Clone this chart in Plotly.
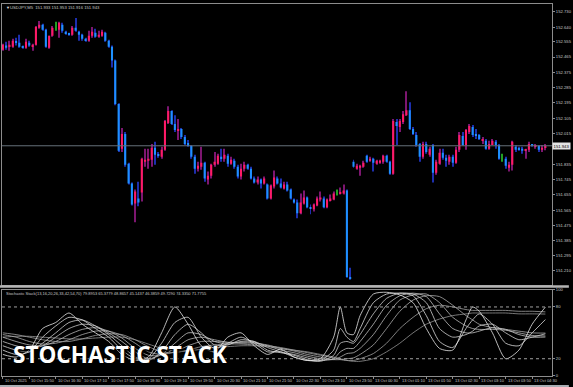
import plotly.graph_objects as go

# ---------------- data ----------------
OPEN = [152.508,152.532,152.526,152.526,152.555,152.549,152.526,152.520,152.549,152.526,
        152.537,152.637,152.654,152.625,152.520,152.590,152.631,152.625,152.654,152.613,
        152.602,152.596,152.637,152.613,152.596,152.572,152.561,152.590,152.607,152.584,
        152.590,152.607,152.561,152.526,152.444,152.188,151.925,152.012,151.837,151.721,
        151.604,151.633,151.668,151.849,151.855,151.861,151.931,151.890,151.878,151.919,
        152.077,152.147,152.071,152.030,152.042,151.995,151.960,151.942,151.878,151.808,
        151.820,151.843,151.744,151.767,151.832,151.837,151.878,151.867,151.884,151.837,
        151.855,151.820,151.762,151.808,151.832,151.808,151.750,151.727,151.744,151.721,
        151.715,151.633,151.703,151.750,151.721,151.692,151.715,151.686,151.627,151.610,
        151.546,151.604,151.639,151.581,151.569,151.592,151.627,151.633,151.581,151.622,
        151.627,151.665,151.662,151.662,151.680,151.172,151.849,151.808,151.814,151.820,
        151.884,151.855,151.867,151.837,151.843,151.849,151.884,151.849,151.779,152.083,
        152.053,152.083,152.123,152.152,152.042,152.007,151.954,151.878,151.954,151.890,
        151.948,151.785,151.837,151.902,151.872,151.849,151.878,151.843,151.919,152.001,
        151.948,152.024,152.053,152.007,152.007,151.972,151.972,151.925,151.948,151.966,
        151.948,151.878,151.867,151.814,151.832,151.937,151.925,151.925,151.913,151.919,
        151.948,151.937,151.942,151.919,151.933]
HIGH = [152.543,152.555,152.561,152.572,152.578,152.596,152.532,152.572,152.561,152.543,
        152.648,152.677,152.660,152.631,152.590,152.648,152.672,152.672,152.666,152.619,
        152.607,152.648,152.695,152.619,152.602,152.578,152.619,152.642,152.631,152.619,
        152.625,152.613,152.567,152.532,152.450,152.193,152.047,152.024,151.843,151.727,
        151.686,151.732,151.872,151.925,151.925,151.954,151.966,151.907,151.937,152.094,
        152.176,152.152,152.123,152.100,152.047,152.007,151.977,151.948,151.890,151.849,
        151.937,151.849,151.791,151.837,151.907,151.896,151.925,151.925,151.896,151.878,
        151.867,151.832,151.837,151.849,151.837,151.820,151.762,151.762,151.750,151.762,
        151.721,151.715,151.797,151.762,151.750,151.732,151.732,151.692,151.633,151.627,
        151.662,151.680,151.645,151.598,151.604,151.645,151.674,151.645,151.633,151.657,
        151.674,151.686,151.697,151.715,151.686,151.225,151.861,151.837,151.832,151.855,
        151.890,151.878,151.872,151.861,151.861,151.890,151.890,151.855,152.100,152.100,
        152.100,152.147,152.263,152.199,152.053,152.024,151.960,151.966,151.966,151.937,
        151.954,151.861,151.925,151.925,151.890,151.890,151.890,151.937,152.024,152.024,
        152.042,152.071,152.065,152.042,152.012,151.995,151.983,151.972,151.983,151.977,
        151.954,151.896,151.878,151.849,151.972,151.948,151.937,151.937,151.925,151.966,
        151.954,151.954,151.948,151.948,151.953]
LOW = [152.502,152.508,152.502,152.520,152.532,152.520,152.514,152.514,152.526,152.502,
       152.532,152.631,152.619,152.520,152.514,152.584,152.619,152.578,152.607,152.596,
       152.590,152.590,152.613,152.561,152.561,152.555,152.555,152.578,152.578,152.578,
       152.584,152.555,152.520,152.403,152.182,151.907,151.907,151.820,151.715,151.592,
       151.493,151.587,151.616,151.820,151.808,151.820,151.832,151.872,151.867,151.913,
       152.071,152.065,152.024,151.977,151.983,151.948,151.937,151.867,151.779,151.791,
       151.802,151.732,151.715,151.750,151.820,151.832,151.849,151.849,151.820,151.832,
       151.808,151.750,151.744,151.791,151.802,151.744,151.721,151.715,151.692,151.715,
       151.627,151.627,151.692,151.715,151.692,151.686,151.674,151.627,151.604,151.517,
       151.540,151.598,151.575,151.540,151.557,151.587,151.616,151.575,151.575,151.616,
       151.622,151.651,151.657,151.657,151.167,151.155,151.814,151.802,151.767,151.814,
       151.843,151.849,151.791,151.832,151.837,151.837,151.843,151.773,151.773,151.948,
       152.024,152.071,152.118,152.036,152.007,151.937,151.849,151.867,151.896,151.878,
       151.727,151.773,151.832,151.861,151.820,151.832,151.820,151.837,151.907,151.942,
       151.919,152.012,151.995,151.983,151.977,151.954,151.919,151.919,151.948,151.925,
       151.861,151.849,151.808,151.791,151.797,151.907,151.913,151.896,151.867,151.907,
       151.937,151.925,151.907,151.907,151.916]
CLOSE = [152.537,152.520,152.537,152.561,152.549,152.526,152.520,152.555,152.532,152.537,
         152.642,152.654,152.625,152.526,152.590,152.637,152.631,152.666,152.619,152.602,
         152.596,152.637,152.619,152.596,152.572,152.561,152.590,152.613,152.584,152.596,
         152.613,152.561,152.526,152.444,152.188,151.913,152.012,151.832,151.721,151.598,
         151.674,151.610,151.867,151.861,151.867,151.931,151.890,151.884,151.919,152.088,
         152.147,152.071,152.036,152.042,151.995,151.954,151.942,151.878,151.808,151.826,
         151.843,151.750,151.767,151.832,151.849,151.884,151.867,151.890,151.837,151.861,
         151.820,151.762,151.808,151.832,151.808,151.750,151.727,151.744,151.721,151.750,
         151.633,151.709,151.756,151.721,151.697,151.715,151.680,151.633,151.610,151.546,
         151.610,151.639,151.581,151.575,151.598,151.633,151.639,151.581,151.627,151.633,
         151.662,151.665,151.668,151.680,151.172,151.161,151.820,151.826,151.826,151.843,
         151.849,151.867,151.843,151.855,151.855,151.884,151.849,151.779,152.088,152.059,
         152.088,152.129,152.152,152.042,152.012,151.948,151.878,151.954,151.907,151.925,
         151.785,151.849,151.902,151.872,151.855,151.878,151.843,151.919,152.007,151.948,
         152.036,152.059,152.007,152.001,151.983,151.983,151.925,151.954,151.972,151.948,
         151.867,151.878,151.826,151.832,151.966,151.919,151.919,151.913,151.919,151.954,
         151.942,151.948,151.919,151.931,151.943]

TIME_LABELS = ["10 Oct 2025", "10 Oct 15:50", "10 Oct 16:30", "10 Oct 17:10", "10 Oct 17:50",
               "10 Oct 18:30", "10 Oct 19:10", "10 Oct 19:50", "10 Oct 20:30", "10 Oct 21:10",
               "10 Oct 21:50", "10 Oct 22:30", "10 Oct 23:10", "10 Oct 23:50", "13 Oct 00:30",
               "13 Oct 01:10", "13 Oct 01:50", "13 Oct 02:30", "13 Oct 03:10", "13 Oct 03:50",
               "13 Oct 04:30"]
TIME_IDX = [0, 8, 16, 24, 32, 40, 48, 56, 64, 72, 80, 88, 96, 104, 112, 120, 128, 136, 144, 152, 160]

PRICE_TICKS = [152.730, 152.640, 152.555, 152.465, 152.375, 152.285, 152.195, 152.105, 152.015,
               151.925, 151.835, 151.745, 151.655, 151.565, 151.475, 151.385, 151.295, 151.210, 151.120]
STOCH_TICKS = [0, 20, 80, 100]
STOCH_LEVELS = [20, 80]

SYMBOL = "USDJPY,M5"
STOCH_PERIODS = [13, 16, 20, 26, 33, 42, 54, 70]
STOCH_LAST = [79.8953, 65.3779, 48.8657, 45.1437, 46.3859, 49.7290, 74.3350, 71.7755]

STOCH_X = [0, 4, 8, 12, 16, 20, 24, 28, 32, 36, 40, 44, 48, 52, 56, 60, 64, 68, 72, 76, 80, 84, 88, 92,
           96, 100, 102, 104, 106, 108, 112, 116, 120, 124, 128, 132, 136, 140, 142, 144, 148, 152,
           156, 160, 164]
STOCH_13 = [25, 22, 30, 55, 62, 73, 60, 50, 40, 25, 18, 22, 50, 80, 60, 35, 28, 45, 50, 35, 25, 31, 22, 18,
            20, 45, 80, 50, 48, 70, 95, 97, 94, 85, 55, 32, 30, 65, 80, 75, 50, 20, 30, 60, 79.8953]
STOCH_16 = [30, 25, 28, 45, 58, 68, 65, 55, 45, 30, 20, 20, 38, 62, 68, 45, 32, 38, 45, 38, 28, 28, 22, 18,
            18, 30, 55, 45, 40, 55, 85, 95, 96, 93, 70, 40, 33, 55, 65, 72, 60, 38, 35, 50, 65.3779]
STOCH_20 = [35, 30, 28, 38, 50, 62, 65, 58, 48, 35, 22, 18, 28, 48, 60, 50, 36, 36, 42, 40, 30, 27, 24, 19,
            17, 24, 38, 40, 38, 48, 72, 90, 96, 95, 85, 55, 45, 48, 52, 58, 60, 50, 42, 45, 48.8657]
STOCH_26 = [40, 35, 32, 35, 45, 55, 60, 58, 50, 40, 28, 20, 25, 38, 50, 48, 40, 37, 40, 40, 33, 28, 25, 21,
            18, 20, 28, 32, 32, 40, 60, 82, 93, 96, 92, 72, 55, 50, 50, 52, 56, 54, 48, 45, 45.1437]
STOCH_33 = [45, 40, 36, 35, 40, 48, 54, 56, 52, 44, 32, 24, 24, 32, 42, 45, 42, 39, 39, 39, 35, 30, 27, 23,
            20, 19, 22, 26, 27, 32, 48, 70, 88, 94, 95, 85, 68, 58, 55, 54, 54, 53, 50, 47, 46.3859]
STOCH_42 = [48, 45, 40, 37, 38, 42, 48, 52, 52, 47, 38, 28, 25, 28, 35, 40, 40, 39, 38, 38, 36, 32, 29, 25,
            22, 19, 19, 20, 21, 25, 36, 55, 75, 88, 93, 92, 82, 70, 65, 60, 56, 54, 52, 50, 49.7290]
STOCH_54 = [50, 48, 45, 42, 40, 40, 43, 47, 49, 48, 42, 34, 28, 27, 30, 34, 36, 37, 37, 36, 35, 33, 30, 27,
            24, 21, 19, 18, 18, 20, 26, 38, 55, 68, 78, 82, 80, 77, 76, 76, 76, 76, 75, 75, 74.3350]
STOCH_70 = [45, 46, 46, 45, 44, 43, 43, 44, 45, 45, 42, 37, 32, 29, 29, 31, 33, 34, 35, 35, 34, 32, 30, 28,
            25, 22, 20, 18, 17, 17, 20, 28, 38, 50, 60, 66, 70, 72, 73, 73, 73, 73, 72, 72, 71.7755]
STOCH_LINES = [STOCH_13, STOCH_16, STOCH_20, STOCH_26, STOCH_33, STOCH_42, STOCH_54, STOCH_70]

# ---------------- styles ----------------
W, H = 573, 387
ML, MR, MT, MB = 2, 17, 1, 11
PLOT_BOTTOM = H - MB          # 376
PH = H - MT - MB              # 375
PW = W - ML - MR              # 554

def py(pix):
    return (PLOT_BOTTOM - pix) / PH

def px(pix):
    return (pix - ML) / PW

BULL_BODY = "#FF1A66"
BEAR_BODY = "#1E90FF"
BULL_WICK = "#7d1670"
BEAR_WICK = "#1d2fae"
DOJI = "#22a022"
TXT = "#C8C8C8"
FRAME = "#8c8c8c"
FONT = "Liberation Sans"
LINE_COLORS = ["#e8e8e8", "#dcdcdc", "#d0d0d0", "#c4c4c4", "#b8b8b8", "#acacac", "#a0a0a0", "#949494"]

idx = list(range(len(OPEN)))
bull = [i for i in idx if CLOSE[i] > OPEN[i]]
bear = [i for i in idx if CLOSE[i] < OPEN[i]]
doji = [i for i in idx if CLOSE[i] == OPEN[i]]

fig = go.Figure()

def wick(ids, color):
    fig.add_trace(go.Bar(x=ids, y=[HIGH[i] - LOW[i] for i in ids], base=[LOW[i] for i in ids],
                         width=0.3, marker=dict(color=color, line=dict(width=0)),
                         xaxis="x", yaxis="y", hoverinfo="skip"))

def body(ids, color):
    fig.add_trace(go.Bar(x=ids, y=[abs(CLOSE[i] - OPEN[i]) for i in ids],
                         base=[min(OPEN[i], CLOSE[i]) for i in ids],
                         width=0.62, marker=dict(color=color, line=dict(width=0)),
                         xaxis="x", yaxis="y", hoverinfo="skip"))

wick(bull, BULL_WICK)
wick(bear, BEAR_WICK)
wick(doji, DOJI)
body(bull, BULL_BODY)
body(bear, BEAR_BODY)

for vals, col in zip(STOCH_LINES[::-1], LINE_COLORS[::-1]):
    fig.add_trace(go.Scatter(x=STOCH_X, y=vals, mode="lines",
                             line=dict(color=col, width=0.8, shape="spline", smoothing=0.7),
                             xaxis="x2", yaxis="y2", hoverinfo="skip"))

XR = [-0.25, 166.0]
Y_MAIN = [151.1258, 152.7767]

shapes = []
shapes.append(dict(type="line", xref="paper", yref="y", x0=0, x1=1, y0=CLOSE[-1], y1=CLOSE[-1],
                   line=dict(color="#66707a", width=1)))
for lv in STOCH_LEVELS:
    shapes.append(dict(type="line", xref="paper", yref="y2", x0=0, x1=1, y0=lv, y1=lv,
                       line=dict(color="#a0a0a0", width=1, dash="dot")))
shapes.append(dict(type="rect", xref="paper", yref="paper", x0=px(0), x1=px(W), y0=py(287), y1=py(284.5),
                   fillcolor="#b4b4b4", line=dict(width=0), layer="above"))
shapes.append(dict(type="rect", xref="paper", yref="paper", x0=px(0), x1=px(W), y0=py(387), y1=py(385),
                   fillcolor="#a8adb3", line=dict(width=0), layer="above"))

ann = []
ann.append(dict(xref="paper", yref="paper", x=px(4), y=py(5), xanchor="left", yanchor="middle",
                text="▼", showarrow=False, font=dict(family=FONT, size=4, color="#e0e0e0")))
ann.append(dict(xref="paper", yref="paper", x=px(8.5), y=py(5), xanchor="left", yanchor="middle",
                text=f"{SYMBOL}  {OPEN[-1]:.3f} {HIGH[-1]:.3f} {LOW[-1]:.3f} {CLOSE[-1]:.3f}",
                showarrow=False, font=dict(family=FONT, size=4.2, color=TXT)))
stoch_title = "Stochastic Stack(" + ",".join(str(p) for p in STOCH_PERIODS) + ") " + \
              " ".join(f"{v:.4f}" for v in STOCH_LAST)
ann.append(dict(xref="paper", yref="paper", x=px(4), y=py(292.5), xanchor="left", yanchor="middle",
                text=stoch_title, showarrow=False, font=dict(family=FONT, size=4.0, color=TXT)))
ann.append(dict(xref="paper", yref="y", x=px(556), y=CLOSE[-1], xanchor="left", yanchor="middle",
                text=f"{CLOSE[-1]:.3f}", showarrow=False, bgcolor="#e4e4e4", borderpad=0.6,
                width=16, height=5, align="left",
                font=dict(family=FONT, size=4.2, color="#000000")))
for i, lab in zip(TIME_IDX, TIME_LABELS):
    ann.append(dict(xref="x2", yref="paper", x=i, y=py(381), xanchor="left", yanchor="middle",
                    text=lab, showarrow=False, font=dict(family=FONT, size=4.0, color=TXT)))
ann.append(dict(xref="paper", yref="paper", x=px(11), y=py(354), xanchor="left", yanchor="middle",
                text="STOCHASTIC STACK", showarrow=False,
                font=dict(family="Open Sans", size=22.5, color="#ffffff", weight="bold",
                          shadow="2px 2px 2px #000000")))

# the 151.925 label sits under the current-price box in the reference
price_text = ["" if abs(v - CLOSE[-1]) < 0.03 else f"{v:.3f}" for v in PRICE_TICKS]

fig.update_layout(
    width=W, height=H, margin=dict(l=ML, r=MR, t=MT, b=MB),
    paper_bgcolor="#000000", plot_bgcolor="#000000",
    showlegend=False, barmode="overlay", hovermode=False,
    xaxis=dict(domain=[0, 1], range=XR, anchor="y", showgrid=False, zeroline=False,
               showticklabels=False, ticks="", showline=True, mirror=True, linecolor=FRAME, linewidth=1),
    yaxis=dict(domain=[py(284), 1], range=Y_MAIN, side="right", anchor="x", showgrid=False,
               zeroline=False, tickvals=PRICE_TICKS, ticktext=price_text,
               ticks="outside", ticklen=2, tickcolor=FRAME,
               tickfont=dict(family=FONT, size=4.2, color=TXT),
               showline=True, mirror=True, linecolor=FRAME, linewidth=1),
    xaxis2=dict(domain=[0, 1], range=XR, anchor="y2", matches="x", showgrid=False, zeroline=False,
                tickvals=TIME_IDX, ticks="outside", ticklen=2, tickcolor=FRAME, showticklabels=False,
                showline=True, mirror=True, linecolor=FRAME, linewidth=1),
    yaxis2=dict(domain=[0, py(289)], range=[0, 100], side="right", anchor="x2", showgrid=False,
                zeroline=False, tickvals=STOCH_TICKS, ticktext=[str(v) for v in STOCH_TICKS],
                ticks="outside", ticklen=2, tickcolor=FRAME,
                tickfont=dict(family=FONT, size=4.2, color=TXT),
                showline=True, mirror=True, linecolor=FRAME, linewidth=1),
    shapes=shapes, annotations=ann,
)

fig.write_html("out.html")
